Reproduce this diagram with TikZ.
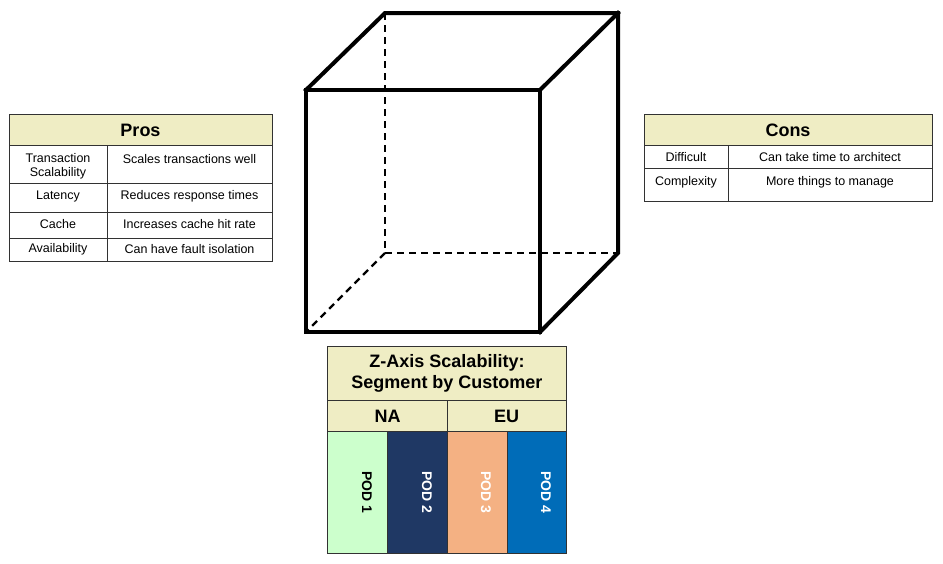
\documentclass[tikz,border=0pt]{standalone}
\usepackage{fontspec}
\setmainfont{Liberation Sans}
\definecolor{hdr}{RGB}{239,237,196}
\definecolor{tabline}{RGB}{50,50,50}
\definecolor{podA}{RGB}{204,255,204}
\definecolor{podB}{RGB}{31,56,100}
\definecolor{podC}{RGB}{244,177,131}
\definecolor{podD}{RGB}{0,108,184}
\tikzset{
  edge/.style={line width=4pt, line join=miter, line cap=rect},
  hidden/.style={line width=2.2pt, dash pattern=on 7pt off 5pt},
  gridline/.style={draw=tabline, line width=1pt},
  headbox/.style={gridline, fill=hdr},
  body/.style={inner sep=0pt, font=\fontsize{12.5}{14}\selectfont, align=center},
  title/.style={inner sep=0pt, font=\fontsize{18}{21}\selectfont\bfseries, align=center},
  bigtitle/.style={inner sep=0pt, font=\fontsize{18}{21}\selectfont\bfseries, align=center},
  podtext/.style={inner sep=0pt, rotate=-90, font=\fontsize{14}{16}\selectfont\bfseries},
}
\begin{document}
\begin{tikzpicture}[x=1pt,y=-1pt]
\useasboundingbox (0,0) rectangle (943,563);

% ---- cube ----
\coordinate (F1) at (306,90);
\coordinate (F2) at (540,90);
\coordinate (F3) at (540,332);
\coordinate (F4) at (306,332);
\coordinate (B1) at (385,13);
\coordinate (B2) at (618,13);
\coordinate (B3) at (618,253);
\coordinate (B4) at (385,253);
\draw[hidden] (B1) -- (B4) -- (B3);
\draw[hidden] (B4) -- (F4);
\draw[edge] (F1) -- (F2) -- (F3) -- (F4) -- cycle;
\draw[edge] (F1) -- (B1) -- (B2) -- (B3) -- (F3);
\draw[edge] (F2) -- (B2);

% ---- Pros table ----
\draw[headbox] (9,114) rectangle (272,145);
\draw[gridline] (9,145) rectangle (272,261);
\draw[gridline] (9,183) -- (272,183);
\draw[gridline] (9,212) -- (272,212);
\draw[gridline] (9,238) -- (272,238);
\draw[gridline] (107,145) -- (107,261);
\node[title] (pros) at (140.5,130) {Pros};
\node[body] (p1a) at (58,166) {Transaction\\Scalability};
\node[body] (p1b) at (189.5,159) {Scales transactions well};
\node[body] (p2a) at (58,196) {Latency};
\node[body] (p2b) at (189.5,196) {Reduces response times};
\node[body] (p3a) at (58,224) {Cache};
\node[body] (p3b) at (189.5,224) {Increases cache hit rate};
\node[body] (p4a) at (58,249) {Availability};
\node[body] (p4b) at (189.5,249) {Can have fault isolation};

% ---- Cons table ----
\draw[headbox] (644,114) rectangle (932.5,145);
\draw[gridline] (644,145) rectangle (932.5,201.5);
\draw[gridline] (644,168.5) -- (932.5,168.5);
\draw[gridline] (728,145) -- (728,201.5);
\node[title] (cons) at (788,130) {Cons};
\node[body] (c1a) at (686,157.5) {Difficult};
\node[body] (c1b) at (830,157.5) {Can take time to architect};
\node[body] (c2a) at (686,182) {Complexity};
\node[body] (c2b) at (830,182) {More things to manage};

% ---- Z-axis table ----
\draw[headbox] (327.5,346) rectangle (566.5,400);
\draw[headbox] (327.5,400) rectangle (447,431);
\draw[headbox] (447,400) rectangle (566.5,431);
\draw[gridline, fill=podA] (327.5,431) rectangle (387,553);
\draw[gridline, fill=podB] (387,431) rectangle (447,553);
\draw[gridline, fill=podC] (447,431) rectangle (507,553);
\draw[gridline, fill=podD] (507,431) rectangle (566.5,553);
\node[bigtitle] (ztitle) at (447,373) {Z-Axis Scalability:\\Segment by Customer};
\node[bigtitle] (na) at (387.5,416.5) {NA};
\node[bigtitle] (eu) at (506.5,416.5) {EU};
\node[podtext, text=black] (pod1) at (367,492) {POD 1};
\node[podtext, text=white] (pod2) at (427,492) {POD 2};
\node[podtext, text=white] (pod3) at (486,492) {POD 3};
\node[podtext, text=white] (pod4) at (546,492) {POD 4};
\end{tikzpicture}
\end{document}
